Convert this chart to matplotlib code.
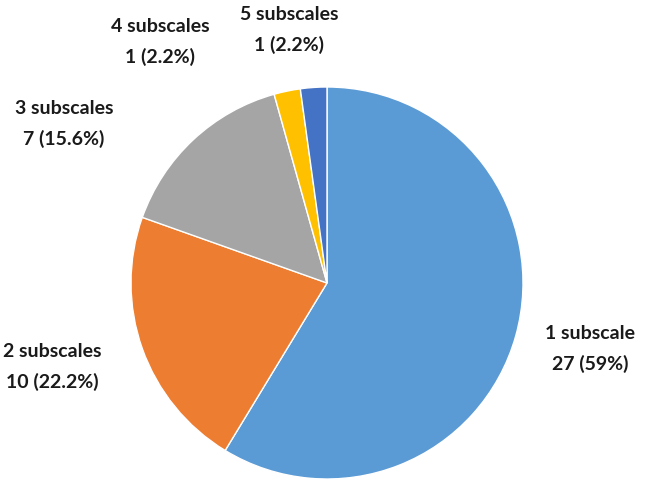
import matplotlib
matplotlib.use("Agg")
import matplotlib.pyplot as plt

categories = ["1 subscale", "2 subscales", "3 subscales", "4 subscales", "5 subscales"]
counts = [27, 10, 7, 1, 1]
pct_labels = ["59%", "22.2%", "15.6%", "2.2%", "2.2%"]
colors = ["#5B9BD5", "#ED7D31", "#A5A5A5", "#FFC000", "#4472C4"]

# label centre positions in figure pixel coords (x, y from top)
label_pos = [(590, 349), (52, 367), (64, 124), (160, 42), (289, 30)]

W, H = 650, 483
fig = plt.figure(figsize=(6.5, 4.83), dpi=100)
cx, cy, r = 327, 283, 196
ax = fig.add_axes([(cx - r) / W, (H - cy - r) / H, 2 * r / W, 2 * r / H])
ax.pie(counts, colors=colors, startangle=90, counterclock=False,
       radius=1, wedgeprops=dict(edgecolor="white", linewidth=1))
ax.set_xlim(-1, 1)
ax.set_ylim(-1, 1)
ax.set_aspect("equal")
ax.axis("off")

for cat, n, p, (x, y) in zip(categories, counts, pct_labels, label_pos):
    fig.text(x / W, 1 - y / H, f"{cat}\n{n} ({p})", ha="center", va="center",
             fontsize=14, fontweight="bold", family="Lato", color="#1a1a1a",
             linespacing=1.85)

fig.savefig("out.png", dpi=100)
